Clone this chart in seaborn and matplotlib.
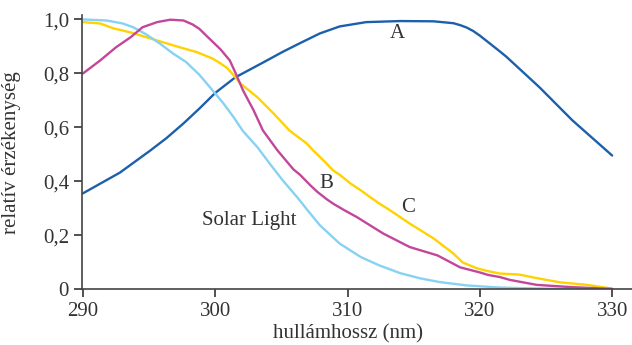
import numpy as np
import pandas as pd
import seaborn as sns
import matplotlib.pyplot as plt

# görbék (leolvasva az ábráról)
a_nm = [290, 292.8, 295.1, 296.3, 297.6, 298.8, 300, 301.5, 303.9, 305.1, 306.4,
        307.9, 309.4, 311.4, 314, 316.5, 318, 318.5, 319, 319.5, 320, 321.5, 322, 324.5, 327, 330]
a_val = [0.356, 0.433, 0.515, 0.56, 0.615, 0.67, 0.728, 0.785, 0.848, 0.88, 0.912,
         0.948, 0.974, 0.99, 0.994, 0.993, 0.986, 0.979, 0.97, 0.957, 0.94, 0.882, 0.862, 0.749, 0.626, 0.496]

b_nm = [290, 291.3, 292.5, 293.6, 294.5, 295.6, 296.6, 297.6, 298.3, 298.8, 299.3, 300.4, 301.1,
        301.5, 302.1, 302.9, 303.6, 304.7, 305.9, 306.4, 307.2, 307.7, 308.4, 308.9, 309.7, 310.7,
        312.7, 314.7, 316.8, 318.5, 320, 320.6, 321.5, 322.3, 324.3, 326.8, 330]
b_val = [0.80, 0.848, 0.897, 0.934, 0.971, 0.99, 0.999, 0.996, 0.981, 0.965, 0.941, 0.889, 0.848,
         0.805, 0.737, 0.663, 0.589, 0.515, 0.445, 0.425, 0.385, 0.362, 0.335, 0.318, 0.295, 0.268,
         0.207, 0.157, 0.126, 0.082, 0.063, 0.054, 0.046, 0.035, 0.017, 0.009, 0.002]

c_nm = [290, 291.3, 292.3, 293, 293.8, 294.8, 296, 297.3, 298.6, 299.8, 300.4, 300.9, 301.3,
        301.9, 303.2, 304.4, 305.6, 306.9, 307.4, 308.4, 308.9, 309.4, 310.2, 311, 311.7, 312.4,
        313, 314.7, 316.5, 318, 318.7, 319.8, 320.6, 321.5, 323, 324.3, 326.1, 328.1, 330]
c_val = [0.99, 0.985, 0.967, 0.959, 0.949, 0.934, 0.916, 0.897, 0.879, 0.855, 0.837, 0.82, 0.798,
         0.763, 0.711, 0.652, 0.589, 0.541, 0.515, 0.467, 0.441, 0.425, 0.393, 0.367, 0.342, 0.318,
         0.3, 0.244, 0.189, 0.133, 0.1, 0.078, 0.068, 0.059, 0.055, 0.042, 0.026, 0.017, 0.003]

s_nm = [290, 291.8, 293, 293.8, 294.8, 295.8, 296.8, 297.8, 298.8, 299.8, 300.6, 301.4,
        302.1, 303.2, 304.1, 305.1, 306.2, 306.9, 307.9, 309.4, 311, 312.4, 314, 315.5,
        317, 319, 321.5, 324, 330]
s_val = [1.0, 0.996, 0.985, 0.971, 0.944, 0.911, 0.874, 0.842, 0.795, 0.737, 0.69, 0.637,
         0.586, 0.526, 0.467, 0.404, 0.341, 0.298, 0.238, 0.17, 0.12, 0.089, 0.06, 0.041,
         0.027, 0.015, 0.007, 0.004, 0.0]

x_ticks = [290, 300, 310, 320, 330]
y_ticks = [0, 0.2, 0.4, 0.6, 0.8, 1.0]
y_ticklabels = ["0", "0,2", "0,4", "0,6", "0,8", "1,0"]

sns.set_style("ticks")
plt.rcParams['font.family'] = ['Liberation Serif', 'DejaVu Serif']

fig, ax = plt.subplots(figsize=(6.32, 3.45), dpi=100)
fig.subplots_adjust(left=0.129, right=1.0, bottom=0.161, top=0.957)

lw = 1.7
sns.lineplot(x=a_nm, y=a_val, ax=ax, color="#1c5fac", lw=lw)
sns.lineplot(x=c_nm, y=c_val, ax=ax, color="#ffd200", lw=lw)
sns.lineplot(x=s_nm, y=s_val, ax=ax, color="#86d2f3", lw=lw)
sns.lineplot(x=b_nm, y=b_val, ax=ax, color="#c2479b", lw=lw)

fs = 15
txt = dict(fontsize=fs, color="#333333")
ax.text(313.8, 0.948, "A", ha="center", va="center", **txt)
ax.text(308.4, 0.393, "B", ha="center", va="center", **txt)
ax.text(314.6, 0.304, "C", ha="center", va="center", **txt)
ax.text(302.6, 0.256, "Solar Light", ha="center", va="center", **txt)

ax.set_xlim(289.89, 331.5)
ax.set_ylim(0, 1.017)
ax.set_xticks(x_ticks)
ax.set_yticks(y_ticks)
ax.set_yticklabels(y_ticklabels)
ax.tick_params(labelsize=fs, colors="#333333", length=6, width=1.2, pad=3)
for s in ["left", "bottom"]:
    ax.spines[s].set_color("#444444")
    ax.spines[s].set_linewidth(1.2)
sns.despine(ax=ax)

ax.set_xlabel("hullámhossz (nm)", fontsize=fs, color="#333333")
ax.set_ylabel("relatív érzékenység", fontsize=fs, color="#333333")
ax.xaxis.set_label_coords(0.484, -0.125)
ax.yaxis.set_label_coords(-0.11, 0.5)

fig.savefig("out.png", dpi=100)
